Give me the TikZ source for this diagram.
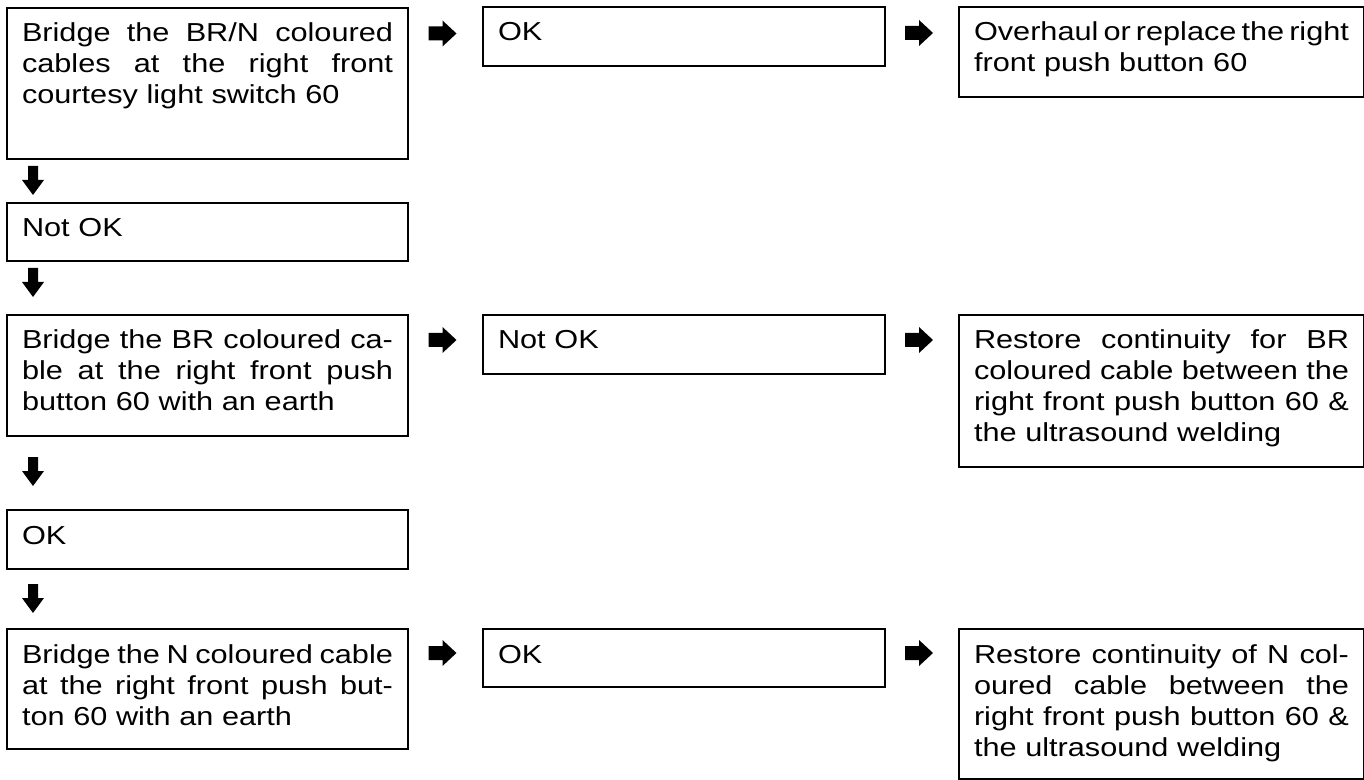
\documentclass[tikz,border=0pt]{standalone}
\usepackage{fontspec}
\newfontfamily\univ[FakeStretch=1.18]{Liberation Sans}
\usetikzlibrary{calc}
\newlength{\colw}
\newcommand{\jl}[1]{\leavevmode\hbox to \colw{\spaceskip=0.3em plus 1fil minus 0.12em\relax #1}}
\begin{document}
\begin{tikzpicture}[x=0.5pt,y=-0.5pt,
  box/.style={draw, line width=1pt, anchor=north west, inner xsep=7.5pt, inner ysep=0pt,
    align=left, font=\univ\fontsize{13pt}{15.5pt}\selectfont, text height=17pt},
  colL/.style={box, text width=185.5pt, execute at begin node={\setlength{\colw}{185.5pt}}},
  colM/.style={box, text width=186pt, execute at begin node={\setlength{\colw}{186pt}}},
  colR/.style={box, text width=187.5pt, execute at begin node={\setlength{\colw}{187.5pt}}},
  rarrow/.pic={\fill (-14,-7) -- (0,-7) -- (0,-13) -- (14,0) -- (0,13) -- (0,7) -- (-14,7) -- cycle;},
  darrow/.pic={\fill (-5,-14) -- (5,-14) -- (5,0) -- (11,0) -- (0,15) -- (-11,0) -- (-5,0) -- cycle;},
]
\useasboundingbox (0,0) rectangle (1364,780);

% row 1
\node[colL, text depth=58.5pt] (b1) at (6,7)
  {\jl{Bridge the BR/N coloured}\\\jl{cables at the right front}\\courtesy light switch 60};
\node[colM, text depth=12.5pt] (ok1) at (482,6) {OK};
\node[colR, text depth=28pt] (ov) at (958,6)
  {\jl{Overhaul or replace the right}\\front push button 60};

\node[colL, text depth=12pt] (no1) at (6,202) {Not OK};

% row 3
\node[colL, text depth=43.5pt] (br) at (6,314)
  {\jl{Bridge the BR coloured ca-}\\\jl{ble at the right front push}\\button 60 with an earth};
\node[colM, text depth=12.5pt] (no2) at (482,314) {Not OK};
\node[colR, text depth=59pt] (rbr) at (958,314)
  {\jl{Restore continuity for BR}\\\jl{coloured cable between the}\\\jl{right front push button 60 \&}\\the ultrasound welding};

\node[colL, text depth=12.5pt] (ok3) at (6,509) {OK};

% row 5
\node[colL, text depth=43pt] (nb) at (6,628)
  {\jl{Bridge the N coloured cable}\\\jl{at the right front push but-}\\ton 60 with an earth};
\node[colM, text depth=12pt] (ok4) at (482,628) {OK};
\node[colR, text depth=58pt] (rn) at (958,628)
  {\jl{Restore continuity of N col-}\\\jl{oured cable between the}\\\jl{right front push button 60 \&}\\the ultrasound welding};

% right arrows
\pic at ($($(b1.north east)!.5!(ok1.north west)$)+(-3,27)$) {rarrow};
\pic at ($($(ok1.north east)!.5!(ov.north west)$)+(-3,27)$) {rarrow};
\pic at ($($(br.north east)!.5!(no2.north west)$)+(-3,26)$) {rarrow};
\pic at ($($(no2.north east)!.5!(rbr.north west)$)+(-3,26)$) {rarrow};
\pic at ($($(nb.north east)!.5!(ok4.north west)$)+(-3,25)$) {rarrow};
\pic at ($($(ok4.north east)!.5!(rn.north west)$)+(-3,25)$) {rarrow};

% down arrows
\pic at ($($(b1.south west)!.5!(no1.north west)$)+(27,-1)$) {darrow};
\pic at ($($(no1.south west)!.5!(br.north west)$)+(27,-6)$) {darrow};
\pic at ($($(br.south west)!.5!(ok3.north west)$)+(27,-2)$) {darrow};
\pic at ($($(ok3.south west)!.5!(nb.north west)$)+(27,-1)$) {darrow};
\end{tikzpicture}
\end{document}
